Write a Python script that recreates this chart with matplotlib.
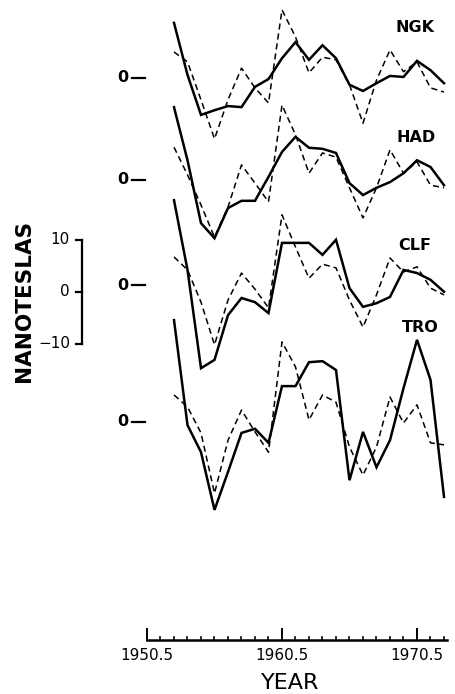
import matplotlib
matplotlib.use("Agg")
import matplotlib.pyplot as plt
import numpy as np

# ---------------- data (nanoteslas, annual means) ----------------
years = [1952.5 + i for i in range(21)]
stations = ["NGK", "HAD", "CLF", "TRO"]

ngk_obs = [10.6, 0.6, -7.1, -6.2, -5.4, -5.6, -1.7, -0.2, 3.8, 6.9, 3.5,
           6.3, 3.8, -1.3, -2.5, -1.0, 0.4, 0.2, 3.3, 1.5, -1.0]
ngk_mod = [5.0, 3.1, -4.2, -11.7, -4.2, 1.9, -1.9, -4.8, 13.1, 7.9, 1.0,
           4.0, 3.5, -1.3, -8.7, -0.4, 5.4, 1.2, 3.1, -1.9, -2.7]

had_obs = [14.0, 3.8, -8.3, -11.2, -5.4, -4.0, -4.0, 0.6, 5.4, 8.3, 6.2,
           6.0, 5.2, -0.6, -2.9, -1.5, -0.4, 1.3, 3.8, 2.5, -1.0]
had_mod = [6.3, 1.0, -4.8, -11.0, -5.2, 2.9, -0.6, -4.2, 14.4, 8.7, 1.3,
           5.2, 4.4, -1.5, -7.3, -1.5, 5.8, 1.3, 3.5, -1.0, -1.5]

clf_obs = [16.3, 2.9, -16.0, -14.4, -5.8, -2.5, -3.3, -5.4, 8.1, 8.1, 8.1,
           5.8, 8.7, -0.6, -4.2, -3.5, -2.3, 2.9, 2.3, 1.0, -1.3]
clf_mod = [5.4, 2.9, -3.3, -11.5, -2.9, 2.3, -0.8, -4.4, 13.5, 7.3, 1.3,
           4.0, 3.3, -2.9, -8.1, -1.9, 5.2, 2.5, 3.5, -0.6, -1.9]

tro_obs = [19.6, -0.6, -5.8, -16.9, -9.6, -2.1, -1.3, -4.0, 6.9, 6.9, 11.5,
           11.7, 10.0, -11.2, -1.9, -8.7, -3.5, 6.5, 15.8, 8.1, -14.4]
tro_mod = [5.2, 2.9, -2.1, -13.7, -3.5, 2.3, -1.9, -5.8, 15.4, 10.6, 0.4,
           5.2, 3.8, -4.8, -10.2, -4.8, 4.8, -0.2, 3.3, -4.0, -4.4]

observed = [ngk_obs, had_obs, clf_obs, tro_obs]
modelled = [ngk_mod, had_mod, clf_mod, tro_mod]

major_ticks = [1950.5, 1960.5, 1970.5]
major_labels = ["1950.5", "1960.5", "1970.5"]
scale_ticks = [10, 0, -10]
scale_labels = ["10", "0", "\u221210"]

# ---------------- layout ----------------
W, H = 455, 694
PX_PER_YEAR = 13.5
PX_PER_NT = 5.2
X0_PX = 147.0          # pixel position of 1950.5


def X(px):
    return 1950.5 + (px - X0_PX) / PX_PER_YEAR


def Y(py):
    return (H - py) / PX_PER_NT


baseline_px = [78, 180, 285, 422]
label_px = [(415, 27), (416, 137), (415, 245), (420, 328)]

fig = plt.figure(figsize=(W / 100, H / 100), dpi=100)
ax = fig.add_axes([0, 0, 1, 1])
ax.set_xlim(X(0), X(W))
ax.set_ylim(0, H / PX_PER_NT)
ax.axis("off")

for name, obs, mod, bpx, lpx in zip(stations, observed, modelled,
                                    baseline_px, label_px):
    off = Y(bpx)
    ax.plot(years, np.array(mod) + off, color="black", lw=1.1,
            dashes=(4, 2.6), solid_joinstyle="miter")
    ax.plot(years, np.array(obs) + off, color="black", lw=1.8,
            solid_joinstyle="miter")
    ax.text(X(lpx[0]), Y(lpx[1]), name, ha="center", va="center",
            fontsize=11.5, fontweight="bold")
    # zero marker "0 —"
    ax.text(X(122.5), off, "0", ha="center", va="center", fontsize=11.5,
            fontweight="bold")
    ax.plot([X(132), X(145)], [off, off], color="black", lw=1.6)

# ---------------- scale bar ----------------
bar_x = X(82)
sb0 = Y(292)
ax.plot([bar_x, bar_x], [sb0 - 10, sb0 + 10], color="black", lw=1.6)
for v, lab in zip(scale_ticks, scale_labels):
    ax.plot([X(76), bar_x], [sb0 + v, sb0 + v], color="black", lw=1.6)
    ax.text(X(70), sb0 + v, lab, ha="right", va="center", fontsize=11)

ax.text(X(24), Y(301), "NANOTESLAS", rotation=90, ha="center", va="center",
        fontsize=15.5, fontweight="bold")

# ---------------- x axis ----------------
axis_y = Y(640)
x_end = X(447)
ax.plot([1950.5, x_end], [axis_y, axis_y], color="black", lw=1.8)
minor = np.arange(1951.5, 1972.6, 1.0)
for t in minor:
    if t in major_ticks:
        continue
    ax.plot([t, t], [axis_y, axis_y + 3.5 / PX_PER_NT], color="black", lw=1.2)
for t, lab in zip(major_ticks, major_labels):
    ax.plot([t, t], [axis_y, axis_y + 11 / PX_PER_NT], color="black", lw=1.4)
    ax.text(t, Y(656), lab, ha="center", va="center", fontsize=11)

ax.text(X(290), Y(683), "YEAR", ha="center", va="center", fontsize=16)

fig.savefig("out.png", dpi=100)
